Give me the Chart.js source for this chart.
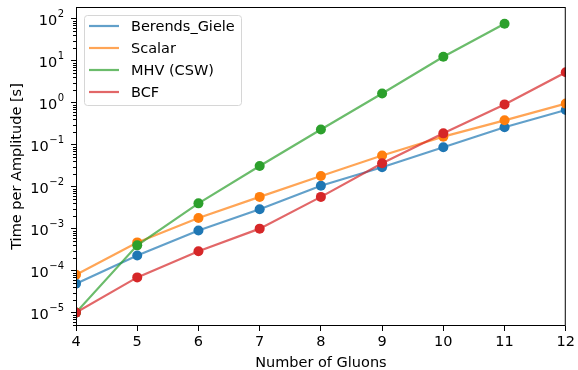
<!DOCTYPE html>
<html>
<head>
<meta charset="utf-8">
<script src="https://cdn.jsdelivr.net/npm/chart.js@4.4.0/dist/chart.umd.min.js"></script>
<style>
  html, body { margin: 0; padding: 0; background: #fff; }
</style>
</head>
<body>
<canvas id="chart" width="578" height="370"></canvas>
<script>
// data
const gluons = [4, 5, 6, 7, 8, 9, 10, 11, 12];
const berendsGiele = [4.9e-5, 2.3e-4, 9.0e-4, 2.9e-3, 1.05e-2, 2.9e-2, 8.7e-2, 0.26, 0.67];
const scalar = [8.0e-5, 4.7e-4, 1.8e-3, 5.7e-3, 1.8e-2, 5.5e-2, 0.155, 0.38, 0.95];
const mhvCsw = [1.0e-5, 4.0e-4, 4.0e-3, 3.1e-2, 0.23, 1.66, 12.4, 76];
const bcf = [1.0e-5, 6.9e-5, 2.9e-4, 1.0e-3, 5.7e-3, 3.6e-2, 0.186, 0.91, 5.3];
const seriesNames = ["Berends_Giele", "Scalar", "MHV (CSW)", "BCF"];
const decades = [-5, -4, -3, -2, -1, 0, 1, 2];

const colors = ["31, 119, 180", "255, 127, 14", "44, 160, 44", "214, 39, 40"];
const fontFamily = "'DejaVu Sans', sans-serif";
const font = { family: fontFamily, size: 14.5 };

function makeDataset(i, values) {
	return {
		label: seriesNames[i],
		data: values.map((v, k) => ({ x: gluons[k], y: v })),
		borderColor: "rgba(" + colors[i] + ", 0.7)",
		backgroundColor: "rgb(" + colors[i] + ")",
		pointBackgroundColor: "rgb(" + colors[i] + ")",
		pointBorderWidth: 0,
		pointRadius: 5,
		pointHoverRadius: 5,
		borderWidth: 2.2,
		order: 3 - i,
		clip: 0,
	};
}

// frame, minor ticks, log tick labels and the legend box
const extras = {
	id: "extras",
	afterDraw(chart) {
		const ctx = chart.ctx;
		const a = chart.chartArea;
		const y = chart.scales.y;
		ctx.save();
		ctx.strokeStyle = "#000";
		ctx.lineWidth = 1;
		ctx.strokeRect(a.left + 0.5, a.top + 0.5, a.right - a.left - 1, a.bottom - a.top - 1);

		// minor log ticks
		ctx.beginPath();
		for (let d = -6; d <= 2; d++) {
			for (let m = 2; m <= 9; m++) {
				const v = m * Math.pow(10, d);
				if (v < y.min || v > y.max) continue;
				const py = Math.round(y.getPixelForValue(v)) + 0.5;
				ctx.moveTo(a.left - 3, py);
				ctx.lineTo(a.left, py);
			}
		}
		ctx.stroke();

		// tick labels 10^n with a raised exponent
		ctx.fillStyle = "#000";
		ctx.textBaseline = "alphabetic";
		ctx.textAlign = "left";
		y.ticks.forEach(t => {
			const py = y.getPixelForValue(t.value);
			const exp = String(Math.round(Math.log10(t.value))).replace("-", "\u2212");
			ctx.font = "10px " + fontFamily;
			const ew = ctx.measureText(exp).width;
			ctx.font = font.size + "px " + fontFamily;
			const bw = ctx.measureText("10").width;
			const right = a.left - 12;
			const x0 = right - ew - bw - 0.5;
			ctx.fillText("10", x0, py + 6);
			ctx.font = "10px " + fontFamily;
			ctx.fillText(exp, x0 + bw + 0.5, py - 1.5);
		});

		// legend
		const lx = 84, ly = 15, lw = 157, lh = 90;
		ctx.fillStyle = "rgba(255,255,255,0.8)";
		ctx.strokeStyle = "#d6d6d6";
		ctx.beginPath();
		ctx.roundRect(lx + 0.5, ly + 0.5, lw, lh, 3);
		ctx.fill();
		ctx.stroke();
		ctx.font = font.size + "px " + fontFamily;
		ctx.textBaseline = "middle";
		ctx.textAlign = "left";
		chart.data.datasets.forEach((ds, i) => {
			const ry = 26 + i * 22;
			ctx.strokeStyle = ds.borderColor;
			ctx.lineWidth = 2.2;
			ctx.beginPath();
			ctx.moveTo(89, ry);
			ctx.lineTo(119, ry);
			ctx.stroke();
			ctx.fillStyle = "#000";
			ctx.fillText(ds.label, 131, ry + 1);
		});
		ctx.restore();
	}
};

new Chart(document.getElementById("chart"), {
	type: "line",
	data: {
		datasets: [
			makeDataset(0, berendsGiele),
			makeDataset(1, scalar),
			makeDataset(2, mhvCsw),
			makeDataset(3, bcf),
		],
	},
	options: {
		responsive: false,
		devicePixelRatio: 1,
		animation: false,
		layout: { padding: { left: 0, top: 7, right: 11, bottom: 0 } },
		plugins: { legend: { display: false }, tooltip: { enabled: false } },
		scales: {
			x: {
				type: "linear",
				min: 4,
				max: 12,
				afterFit(s) { s.height = 44; },
				ticks: { stepSize: 1, color: "#000", font: font, padding: 3 },
				grid: { drawOnChartArea: false, drawTicks: true, tickLength: 5, tickColor: "#000" },
				border: { display: false },
				title: { display: true, text: "Number of Gluons", color: "#000", font: font, padding: { top: 0, bottom: -2 } },
			},
			y: {
				type: "logarithmic",
				min: 4.8e-6,
				max: 190,
				afterFit(s) { s.width = 76; },
				afterBuildTicks(s) { s.ticks = decades.map(d => ({ value: Math.pow(10, d) })); },
				ticks: { display: false, autoSkip: false },
				grid: { drawOnChartArea: false, drawTicks: true, tickLength: 5, tickColor: "#000" },
				border: { display: false },
				title: { display: true, text: "Time per Amplitude [s]", color: "#000", font: font, padding: { top: 9, bottom: 0 } },
			},
		},
	},
	plugins: [extras],
});
</script>
</body>
</html>
